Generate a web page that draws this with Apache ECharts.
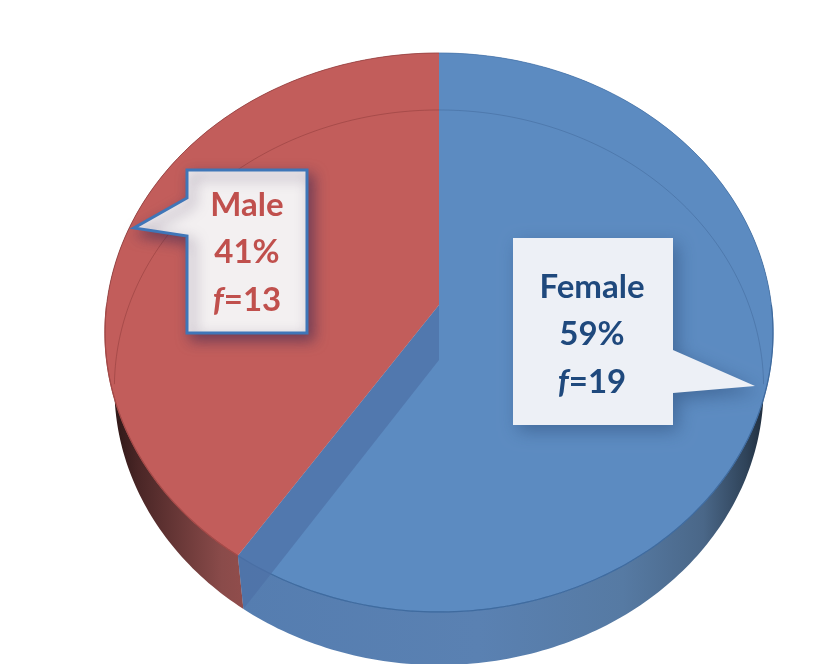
<!DOCTYPE html>
<html>
<head>
<meta charset="utf-8">
<style>html,body{margin:0;padding:0;background:#fff}#chart{width:833px;height:664px}</style>
<script src="https://cdn.jsdelivr.net/npm/echarts@6/dist/echarts.min.js"></script>
</head>
<body>
<div id="chart"></div>
<script>
// Respondents by gender
const categories = ['Female', 'Male'];
const frequencies = [19, 13];

const total = frequencies.reduce((a, b) => a + b, 0);
const shares = frequencies.map(v => Math.round(v / total * 100));

// Perspective disc: the circle is projected so its centre sits above the middle of the ellipse
const topDisc = { cx: 439, cy: 305, a: 332.4, b: 276.8, k: 0.0983 };
const baseDisc = { cx: 439, cy: 360, a: 323, b: 274.8, k: 0.0991 };

const project = (d, t) => {
  const u = Math.sin(t), v = Math.cos(t), w = 1 + d.k * v;
  return [d.cx + d.a * u / w, d.cy - d.b * v / w];
};
const arc = (d, t0, t1) => {
  const n = Math.max(2, Math.ceil(Math.abs(t1 - t0) * 60)), pts = [];
  for (let i = 0; i <= n; i++) pts.push(project(d, t0 + (t1 - t0) * i / n));
  return pts;
};
// Clockwise angular span of a slice, measured from twelve o'clock
const span = i => {
  let sum = 0;
  for (let j = 0; j < i; j++) sum += frequencies[j];
  return [sum / total * 2 * Math.PI, (sum + frequencies[i]) / total * 2 * Math.PI];
};

const G = echarts.graphic;
const QUARTER = Math.PI / 2;
const faceColors = ['#5c8bc1', '#c25d5b'];
const backRimColors = ['rgba(70,115,170,0.7)', 'rgba(150,65,65,0.8)'];
const frontRimColors = ['#3f6b9f', '#a54a48'];
const ghostColors = ['rgba(50,85,130,0.32)', 'rgba(120,45,45,0.36)'];
const wallFills = [
  new G.LinearGradient(0, 0, 1, 0, [
    { offset: 0, color: '#557db0' }, { offset: 0.45, color: '#5a81b2' },
    { offset: 0.72, color: '#567aa3' }, { offset: 0.87, color: '#4a6788' },
    { offset: 0.95, color: '#2f4359' }, { offset: 1, color: '#18222e' }
  ]),
  new G.LinearGradient(0, 0, 1, 0, [
    { offset: 0, color: '#241212' }, { offset: 0.1, color: '#4a2626' },
    { offset: 0.35, color: '#8a4b4a' }, { offset: 0.7, color: '#ad5654' },
    { offset: 1, color: '#ba5a58' }
  ])
];

const seriesData = categories.map((name, i) => ({ name, value: [i, frequencies[i]] }));

const renderWall = (params, api) => {
  const i = api.value(0), [t0, t1] = span(i);
  return {
    type: 'polygon',
    shape: { points: arc(topDisc, t0, t1).concat(arc(baseDisc, t1, t0)) },
    style: { fill: wallFills[i] }
  };
};

const renderFace = (params, api) => {
  const i = api.value(0), [t0, t1] = span(i);
  // The near part of the rim reads darker than the far part
  const nearFrom = Math.max(t0, QUARTER), nearTo = Math.min(t1, 3 * QUARTER);
  return {
    type: 'group',
    children: [
      {
        type: 'polygon',
        shape: { points: [[topDisc.cx, topDisc.cy]].concat(arc(topDisc, t0, t1)) },
        style: { fill: faceColors[i] }
      },
      {
        type: 'polyline',
        shape: { points: arc(topDisc, t0, t1) },
        style: { fill: null, stroke: backRimColors[i], lineWidth: 1 }
      },
      {
        type: 'polyline',
        shape: { points: arc(topDisc, nearFrom, nearTo) },
        style: { fill: null, stroke: frontRimColors[i], lineWidth: 1.2 }
      }
    ]
  };
};

// Far edge of the base seen through the top, plus the cut wall of the larger slice
const renderInner = (params, api) => {
  const i = api.value(0), [, t1] = span(i);
  const limit = 95 * Math.PI / 180;
  const children = [{
    type: 'polyline',
    shape: {
      points: i === 0
        ? arc(baseDisc, 0, limit)
        : arc(baseDisc, 2 * Math.PI - limit, 2 * Math.PI)
    },
    style: { fill: null, stroke: ghostColors[i], lineWidth: 1 }
  }];
  if (i === 0) {
    children.push({
      type: 'polygon',
      shape: {
        points: [
          [topDisc.cx, topDisc.cy], [baseDisc.cx, baseDisc.cy],
          project(baseDisc, t1), project(topDisc, t1)
        ]
      },
      style: { fill: 'rgba(78,112,166,0.72)' }
    });
  }
  return { type: 'group', children };
};

const calloutStyles = [
  {
    box: [513, 238, 160, 187], tip: [755, 386], base: [350, 393],
    fill: '#edf0f6', stroke: null, text: '#1f497d',
    shadow: 'rgba(30,60,100,0.42)', blur: 18, textX: 592, textY: 287
  },
  {
    box: [187, 170, 120, 163], tip: [134, 228], base: [198, 236], side: 'left',
    fill: '#f3f0f1', stroke: '#3f76b8', text: '#c0504d',
    shadow: 'rgba(60,40,80,0.6)', blur: 14, textX: 247, textY: 205
  }
];

const renderCallout = (params, api) => {
  const i = api.value(0), f = api.value(1), s = calloutStyles[i];
  const [x, y, w, h] = s.box, r = x + w, b = y + h;
  const pts = s.side === 'left'
    ? [[x, y], [r, y], [r, b], [x, b], [x, s.base[1]], s.tip, [x, s.base[0]]]
    : [[x, y], [r, y], [r, s.base[0]], s.tip, [r, s.base[1]], [r, b], [x, b]];
  const font = { fontFamily: 'Lato', fontWeight: 'bold', fontSize: 33, fill: s.text };
  const lines = [categories[i], shares[i] + '%', '{i|f}=' + f];
  const children = [{
    type: 'polygon',
    shape: { points: pts },
    style: {
      fill: s.fill, stroke: s.stroke, lineWidth: s.stroke ? 3 : 0, lineJoin: 'miter',
      shadowBlur: s.blur, shadowColor: s.shadow, shadowOffsetX: 5, shadowOffsetY: 6
    }
  }];
  lines.forEach((text, n) => children.push({
    type: 'text',
    style: Object.assign({}, font, {
      text, x: s.textX, y: s.textY + n * 47.5, align: 'center', verticalAlign: 'middle',
      rich: { i: { fontFamily: 'Lato', fontWeight: 'bold', fontStyle: 'italic', fontSize: 33, fill: s.text } }
    })
  }));
  return { type: 'group', children };
};

const layer = (renderItem, z) => ({
  type: 'custom', coordinateSystem: 'none', silent: true, z,
  renderItem, data: seriesData, animation: false
});

const chart = echarts.init(document.getElementById('chart'), null, { renderer: 'canvas' });
chart.setOption({
  backgroundColor: '#ffffff',
  animation: false,
  tooltip: { show: false },
  series: [layer(renderWall, 1), layer(renderFace, 2), layer(renderInner, 3), layer(renderCallout, 4)]
});
</script>
</body>
</html>
